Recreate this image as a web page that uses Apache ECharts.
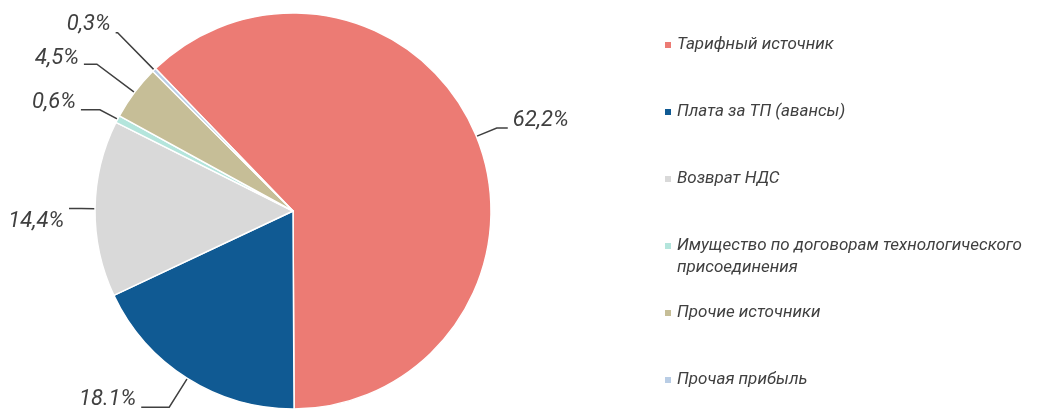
<!DOCTYPE html>
<html><head><meta charset="utf-8">
<script src="https://cdn.jsdelivr.net/npm/echarts@6/dist/echarts.min.js"></script>
<style>html,body{margin:0;padding:0;background:#fff}#c{width:1039px;height:410px}</style>
</head><body><div id="c"></div>
<script>
const categories = [
  'Тарифный источник',
  'Плата за ТП (авансы)',
  'Возврат НДС',
  'Имущество по договорам технологического\nприсоединения',
  'Прочие источники',
  'Прочая прибыль'
];
const values = [62.2, 18.1, 14.4, 0.6, 4.5, 0.3];
const valueLabels = ['62,2%', '18.1%', '14,4%', '0,6%', '4,5%', '0,3%'];
const colors = ['#EC7B74', '#105A93', '#D9D9D9', '#B4E5DC', '#C6BE97', '#B9CDE5'];

const FONT = "Roboto, 'Liberation Sans', sans-serif";
const TEXT = '#404040';
const chart = echarts.init(document.getElementById('c'), null, {renderer: 'canvas'});

// per-slice leader styling: segment lengths; text sits above (up) or below (down) the leader end
const leaderStyle = [
  {length: 22, length2: 11, side: 'up', lh: 16},
  {length: 34, length2: 28, side: 'up', lh: 16},
  {length: 14, length2: 12, side: 'down', lh: 26},
  {length: 20, length2: 19, side: 'up', lh: 14},
  {length: 47, length2: 13, side: 'up', lh: 12},
  {length: 52, length2: 2, side: 'up', lh: 16}
];

const data = categories.map((n, i) => ({
  name: n, value: values[i],
  itemStyle: {color: colors[i]},
  labelLine: {length: leaderStyle[i].length, length2: leaderStyle[i].length2},
  label: {lineHeight: leaderStyle[i].lh}
}));

const legends = categories.map((n, i) => ({
  orient: 'vertical',
  left: 658,
  top: (i === 3 ? 29 + i * 67 - 22 : 29 + i * 67),
  itemWidth: 8, itemHeight: 8, itemGap: 0,
  icon: 'rect',
  data: [{name: n, icon: 'rect'}],
  formatter: (name) => (i === 3 ? '\n' + name : name),
  textStyle: {fontFamily: FONT, fontStyle: 'italic', fontSize: 17, color: TEXT, lineHeight: 22},
  selectedMode: false
}));

chart.setOption({
  animation: false,
  color: colors,
  legend: legends,
  series: [{
    type: 'pie',
    center: [293, 211],
    radius: [0, 198],
    startAngle: 134,
    clockwise: true,
    avoidLabelOverlap: false,
    labelLayout: {hideOverlap: false},
    itemStyle: {borderColor: '#fff', borderWidth: 1.5},
    label: {
      show: true, position: 'outside', overflow: 'none',
      formatter: (p) => leaderStyle[p.dataIndex].side === 'up'
        ? valueLabels[p.dataIndex] + '\n '
        : ' \n' + valueLabels[p.dataIndex],
      fontFamily: FONT, fontStyle: 'italic', fontSize: 22, color: TEXT
    },
    labelLine: {show: true, lineStyle: {color: TEXT, width: 1.5}},
    emphasis: {disabled: true},
    data: data
  }]
});
</script></body></html>
